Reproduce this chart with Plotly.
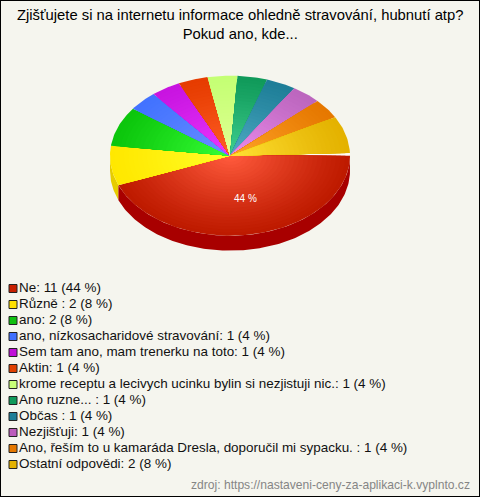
import numpy as np
import plotly.graph_objects as go

TITLE = "Zjišťujete si na internetu informace ohledně stravování, hubnutí atp?<br>Pokud ano, kde..."
SOURCE = "zdroj: https://nastaveni-ceny-za-aplikaci-k.vyplnto.cz"
labels = ["Ne", "Různě ", "ano", "ano, nízkosacharidové stravování", "Sem tam ano, mam trenerku na toto",
          "Aktin", "krome receptu a lecivych ucinku bylin si nezjistuji nic.", "Ano ruzne... ", "Občas ",
          "Nezjišťuji", "Ano, řeším to u kamaráda Dresla, doporučil mi sypacku. ", "Ostatní odpovědi"]
values = [11, 2, 2, 1, 1, 1, 1, 1, 1, 1, 1, 2]
outer = ["#BE1A00", "#FFE800", "#0CC60C", "#4272FF", "#C814E0", "#E63C00",
         "#C4FF74", "#109A5A", "#1E7E98", "#BC66BE", "#E67800", "#E4B200"]
inner = ["#FF5A3C", "#FFFF28", "#36FF36", "#6C90FF", "#EA38FF", "#FF5E26",
         "#E2FF94", "#40D090", "#50ACC4", "#EC8CEC", "#FFA428", "#FFE034"]
legend_swatch = ["#C82000", "#FFE000", "#10C010", "#4070FF", "#C010D8", "#E04000",
                 "#C8FF78", "#109A5A", "#1E7E98", "#BC5CBC", "#E67800", "#E4B200"]
side = ["#A80000", "#E6CC00"]

CX, CY, RX, RY, DEPTH = 230, 155.7, 120, 80, 15
STEPS = 26
BG = "#F5F5EE"


def mix(a, b, t):
    ca = [int(a[i:i + 2], 16) for i in (1, 3, 5)]
    cb = [int(b[i:i + 2], 16) for i in (1, 3, 5)]
    return "rgb(%d,%d,%d)" % tuple(round(x + (y - x) * t) for x, y in zip(ca, cb))


def wedge(a0, a1, r=1.0):
    t = np.radians(np.linspace(a0, a1, max(4, int(abs(a1 - a0)) + 2)))
    x = np.r_[CX, CX + RX * r * np.cos(t), CX]
    y = np.r_[CY, CY + RY * r * np.sin(t), CY]
    return x, y


def wall(a0, a1):
    t = np.radians(np.linspace(a0, a1, int(abs(a1 - a0)) + 2))
    x = CX + RX * np.cos(t)
    y = CY + RY * np.sin(t)
    return np.r_[x, x[::-1], x[0]], np.r_[y, y[::-1] + DEPTH, y[0]]


fig = go.Figure()
total = sum(values)
edges = np.cumsum([0] + values) / total * 360


def poly(x, y, color):
    fig.add_trace(go.Scatter(x=x, y=y, mode="lines", fill="toself", fillcolor=color,
                             line=dict(width=0, color=color), hoverinfo="skip", showlegend=False))


# side walls (only the part facing the viewer)
poly(*wall(edges[1], 180), side[1])
poly(*wall(0, edges[1]), side[0])

# pale band showing through the gap before the first slice
poly(*wedge(edges[-2], 360), "#FFFDF6")

# top faces: painted from the rim inwards so the rings leave no seams
for i, v in enumerate(values):
    a0, a1 = edges[i], edges[i + 1]
    if i == len(values) - 1:
        a1 -= 1.9
    for s in range(STEPS):
        f = s / (STEPS - 1)
        poly(*wedge(a0, a1, 1 - f * 0.96), mix(outer[i], inner[i], f ** 1.15))

# percentage label inside the largest slice
mid = np.radians((edges[0] + edges[1]) / 2)
fig.add_annotation(x=CX + RX * 0.6 * np.cos(mid) + 2, y=CY + RY * 0.54 * np.sin(mid),
                   text=f"{round(values[0] / total * 100)} %", showarrow=False,
                   font=dict(family="Liberation Sans", size=10, color="#FFFFFF"))

# legend rows on their own axis
rows = list(range(len(labels)))
legend_text = [f"{l}: {v} ({round(v / total * 100)} %)" for l, v in zip(labels, values)]
fig.add_trace(go.Scatter(x=[13] * len(rows), y=[288.5 + 16 * r for r in rows], mode="markers+text",
                         marker=dict(symbol="square", size=8, color=legend_swatch,
                                     line=dict(color="#222222", width=1)),
                         text=legend_text, textposition="middle right",
                         textfont=dict(family="Liberation Sans", size=13.45, color="#111111"),
                         hoverinfo="skip", showlegend=False))

fig.add_annotation(x=470, y=485, text=SOURCE, showarrow=False, xanchor="right", xshift=2,
                   font=dict(family="Liberation Sans", size=12.1, color="#858585"))
fig.add_annotation(x=240, y=24, text=TITLE, showarrow=False,
                   font=dict(family="Liberation Sans", size=14.8, color="#000000"))

fig.add_shape(type="rect", xref="paper", yref="paper", x0=0, x1=1, y0=0, y1=1,
              line=dict(color="#000000", width=2), layer="above")

fig.update_layout(width=480, height=497, margin=dict(l=0, r=0, t=0, b=0),
                  paper_bgcolor=BG, plot_bgcolor=BG,
                  xaxis=dict(range=[0, 480], visible=False, fixedrange=True),
                  yaxis=dict(range=[497, 0], visible=False, fixedrange=True),
                  showlegend=False)
fig.write_html("out.html", config={"displayModeBar": False},
               post_script="document.body.style.margin='0';document.body.style.overflow='hidden';")
